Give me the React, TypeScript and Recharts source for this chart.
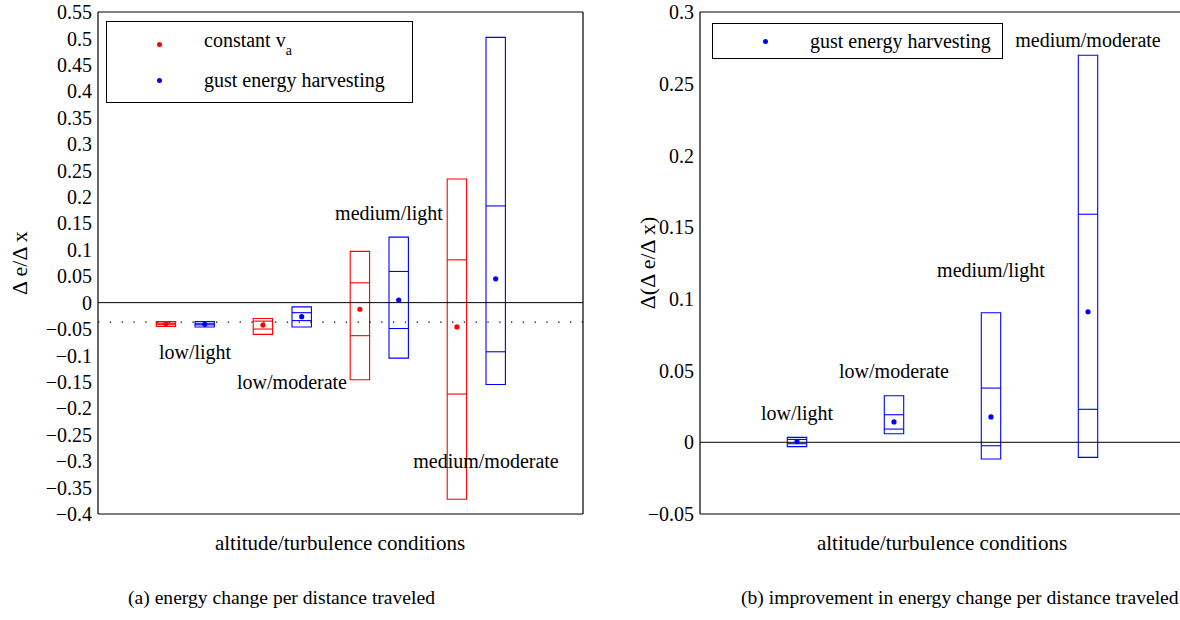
import { ComposedChart, XAxis, YAxis, Scatter, ReferenceArea, ReferenceLine, ReferenceDot, Legend } from 'recharts'

const SERIF = '"Liberation Serif", "Times New Roman", serif'
const RED = '#ff0000'
const BLUE = '#0000ff'

// altitude/turbulence cases, placed at x = 1..4
const groupPos = [1, 2, 3, 4]
const groupNames = ['low/light', 'low/moderate', 'medium/light', 'medium/moderate']

// (a) energy change per distance, constant airspeed
const constMin = [-0.045, -0.06, -0.146, -0.372]
const constMax = [-0.036, -0.03, 0.097, 0.234]
const constMean = [-0.04, -0.0425, -0.0125, -0.046]
const constSd = [0.001, 0.0075, 0.05, 0.127]

// (a) energy change per distance, gust energy harvesting
const gustMin = [-0.046, -0.046, -0.105, -0.155]
const gustMax = [-0.036, -0.008, 0.124, 0.502]
const gustMean = [-0.041, -0.0265, 0.005, 0.045]
const gustSd = [0.001, 0.0075, 0.054, 0.138]

// (b) improvement of harvesting over constant airspeed
const gainMin = [-0.003, 0.006, -0.0117, -0.0105]
const gainMax = [0.0034, 0.0324, 0.0903, 0.2698]
const gainMean = [0.0005, 0.0142, 0.0177, 0.091]
const gainSd = [0.0015, 0.005, 0.0201, 0.068]

const dottedLevel = -0.037

const leftTicks = [-0.4, -0.35, -0.3, -0.25, -0.2, -0.15, -0.1, -0.05, 0, 0.05, 0.1, 0.15, 0.2, 0.25, 0.3, 0.35, 0.4, 0.45, 0.5, 0.55]
const rightTicks = [-0.05, 0, 0.05, 0.1, 0.15, 0.2, 0.25, 0.3]

// label positions (y in data units) for the case names
const leftNameY = [-0.093, -0.15, 0.17, -0.3]
const rightNameY = [0.0204, 0.0497, 0.12, 0.2805]

const fmt = (v: number) => String(v).replace('-', '\u2212')

const BOX_HALF = 0.1

function boxes(id: string, offset: number, min: number[], max: number[], mean: number[], sd: number[], color: string) {
  return groupPos.flatMap((p, i) => {
    const x1 = p + offset - BOX_HALF
    const x2 = p + offset + BOX_HALF
    return [
      <ReferenceArea key={`${id}a${i}`} x1={x1} x2={x2} y1={min[i]} y2={max[i]} fill="none" stroke={color} strokeWidth={1.1} />,
      <ReferenceLine key={`${id}h${i}`} segment={[{ x: x1, y: mean[i] + sd[i] }, { x: x2, y: mean[i] + sd[i] }]} stroke={color} strokeWidth={1.1} />,
      <ReferenceLine key={`${id}l${i}`} segment={[{ x: x1, y: mean[i] - sd[i] }, { x: x2, y: mean[i] - sd[i] }]} stroke={color} strokeWidth={1.1} />,
    ]
  })
}

function meanPoints(offset: number, mean: number[]) {
  return groupPos.map((p, i) => ({ x: p + offset, y: mean[i] }))
}

const dot = (color: string) => (props: any) => <circle cx={props.cx} cy={props.cy} r={2.6} fill={color} />

function names(ys: number[], prefix: string) {
  return groupPos.map((p, i) => (
    <ReferenceDot
      key={`${prefix}${i}`}
      x={p}
      y={ys[i]}
      r={0}
      stroke="none"
      fill="none"
      label={{ value: groupNames[i], position: 'center', fill: '#000', fontSize: 20, fontFamily: SERIF }}
    />
  ))
}

// matlab-style frame: ticks on all four sides pointing inwards
function frame(ticks: number[], labelWidth: number) {
  const axisProps = { stroke: '#000', strokeWidth: 1.2 }
  return [
    <XAxis key="xb" dataKey="x" type="number" domain={[0, 5]} ticks={[1, 2, 3, 4]} allowDataOverflow mirror tick={false} tickSize={5} axisLine={axisProps} tickLine={axisProps} />,
    <XAxis key="xt" xAxisId="top" orientation="top" type="number" domain={[0, 5]} ticks={[1, 2, 3, 4]} allowDataOverflow mirror tick={false} tickSize={5} axisLine={axisProps} tickLine={axisProps} />,
    <YAxis
      key="yl"
      type="number"
      domain={[ticks[0], ticks[ticks.length - 1]]}
      ticks={ticks}
      allowDataOverflow
      width={labelWidth}
      tickSize={0}
      tickMargin={6}
      tickFormatter={fmt}
      tick={{ fill: '#000', fontSize: 20, fontFamily: SERIF }}
      axisLine={axisProps}
      tickLine={false}
      interval={0}
    />,
    <YAxis key="ylt" yAxisId="lt" type="number" domain={[ticks[0], ticks[ticks.length - 1]]} ticks={ticks} allowDataOverflow mirror tick={false} tickSize={5} axisLine={false} tickLine={axisProps} interval={0} />,
    <YAxis key="yr" yAxisId="r" orientation="right" type="number" domain={[ticks[0], ticks[ticks.length - 1]]} ticks={ticks} allowDataOverflow mirror tick={false} tickSize={5} axisLine={axisProps} tickLine={axisProps} interval={0} />,
  ]
}

function LegendBox({ items, width, rowGap }: { items: { label: any; color: string }[]; width: number; rowGap: number }) {
  return (
    <div style={{ width, boxSizing: 'border-box', border: '1.3px solid #000', background: '#fff', padding: '4px 0', fontFamily: SERIF, fontSize: 20, color: '#000' }}>
      {items.map((it, i) => (
        <div key={i} style={{ display: 'flex', alignItems: 'center', height: rowGap }}>
          <span style={{ width: 5, height: 5, borderRadius: '50%', background: it.color, marginLeft: 50, marginRight: 42 }} />
          <span style={{ whiteSpace: 'nowrap' }}>{it.label}</span>
        </div>
      ))}
    </div>
  )
}

const textStyle = { position: 'absolute' as const, fontFamily: SERIF, fontSize: 21, color: '#000', whiteSpace: 'nowrap' as const }
const yTitle = { ...textStyle, fontSize: 22, transform: 'translate(-50%, -50%) rotate(-90deg)' }
const caption = { ...textStyle, fontSize: 19.6, top: 598, transform: 'translateY(-50%)' }

export default function App() {
  return (
    <div style={{ position: 'absolute', left: 0, top: 0, width: 1180, height: 620, background: '#fff', overflow: 'hidden' }}>
      <div style={{ position: 'absolute', left: 0, top: 0 }}>
        <ComposedChart width={600} height={530} margin={{ top: 12, right: 17, bottom: 16, left: 8 }}>
          {frame(leftTicks, 90)}
          <ReferenceLine y={0} stroke="#000" strokeWidth={1} />
          <ReferenceLine y={dottedLevel} stroke="#000" strokeWidth={1.3} strokeDasharray="1.3 10.5" />
          {boxes('c', -0.3, constMin, constMax, constMean, constSd, RED)}
          {boxes('g', 0.1, gustMin, gustMax, gustMean, gustSd, BLUE)}
          <Scatter name="constant" data={meanPoints(-0.3, constMean)} dataKey="y" shape={dot(RED)} isAnimationActive={false} />
          <Scatter name="gust" data={meanPoints(0.1, gustMean)} dataKey="y" shape={dot(BLUE)} isAnimationActive={false} />
          {names(leftNameY, 'ln')}
          <Legend
            layout="vertical"
            align="center"
            verticalAlign="middle"
            wrapperStyle={{ left: 106, top: 21, width: 307 }}
            content={() => (
              <LegendBox
                width={307}
                rowGap={36}
                items={[
                  { label: <span>constant v<sub style={{ fontSize: 14, verticalAlign: -8 }}>a</sub></span>, color: RED },
                  { label: 'gust energy harvesting', color: BLUE },
                ]}
              />
            )}
          />
        </ComposedChart>
      </div>
      <div style={{ position: 'absolute', left: 600, top: 0 }}>
        <ComposedChart width={600} height={530} margin={{ top: 12, right: 15, bottom: 16, left: 8 }}>
          {frame(rightTicks, 92)}
          <ReferenceLine y={0} stroke="#000" strokeWidth={1} />
          {boxes('i', 0, gainMin, gainMax, gainMean, gainSd, BLUE)}
          <Scatter name="gain" data={meanPoints(0, gainMean)} dataKey="y" shape={dot(BLUE)} isAnimationActive={false} />
          {names(rightNameY, 'rn')}
          <Legend
            layout="vertical"
            align="center"
            verticalAlign="middle"
            wrapperStyle={{ left: 112, top: 23, width: 291 }}
            content={() => <LegendBox width={291} rowGap={26} items={[{ label: 'gust energy harvesting', color: BLUE }]} />}
          />
        </ComposedChart>
      </div>

      <div style={{ ...yTitle, left: 20, top: 263 }}>Δ e/Δ x</div>
      <div style={{ ...yTitle, left: 648, top: 263 }}>Δ(Δ e/Δ x)</div>
      <div style={{ ...textStyle, left: 340, top: 543, transform: 'translate(-50%, -50%)' }}>altitude/turbulence conditions</div>
      <div style={{ ...textStyle, left: 942, top: 543, transform: 'translate(-50%, -50%)' }}>altitude/turbulence conditions</div>
      <div style={{ ...caption, left: 128 }}>(a) energy change per distance traveled</div>
      <div style={{ ...caption, left: 741 }}>(b) improvement in energy change per distance traveled</div>
    </div>
  )
}
